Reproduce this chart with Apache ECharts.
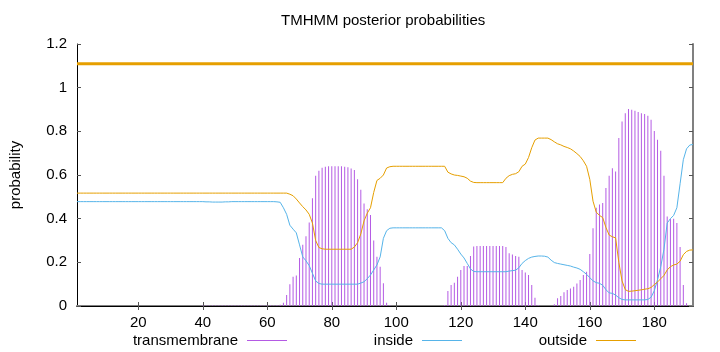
<!DOCTYPE html>
<html><head><meta charset="utf-8">
<script src="https://cdn.jsdelivr.net/npm/echarts@6/dist/echarts.min.js"></script>
<style>html,body{margin:0;padding:0;background:#fff}#c{width:720px;height:352px}</style>
</head><body><div id="c"></div>
<script>
const titleText = 'TMHMM posterior probabilities';
const xTickValues = [20, 40, 60, 80, 100, 120, 140, 160, 180];
const seqLength = 192;

const transmembrane = [
0,0,0,0,0,0,0,0,0,0,
0,0,0,0,0,0,0,0,0,0,
0,0,0,0,0,0,0,0,0,0,
0,0,0,0,0,0,0,0,0,0.002,
0.002,0.002,0.002,0.002,0.002,0.002,0.002,0.002,0.002,0.002,
0.002,0.002,0.002,0.002,0.002,0.002,0.002,0.002,0.002,0.002,
0.002,0.002,0.004,0.006,0.015,0.05,0.1,0.134,0.14,0.22,
0.28,0.32,0.382,0.494,0.596,0.62,0.633,0.638,0.64,0.64,
0.64,0.64,0.64,0.638,0.636,0.63,0.623,0.58,0.532,0.47,
0.443,0.417,0.3,0.226,0.18,0.104,0.015,0.003,0,0,
0,0,0,0,0,0,0,0,0,0,
0,0,0,0,0.005,0.069,0.096,0.107,0.134,0.165,
0.183,0.183,0.229,0.272,0.275,0.275,0.275,0.275,0.275,0.275,
0.275,0.275,0.275,0.27,0.242,0.236,0.229,0.226,0.165,0.154,
0.142,0.096,0.038,0.004,0,0,0,0,0.008,0.035,
0.046,0.063,0.073,0.08,0.088,0.103,0.119,0.142,0.157,0.238,
0.356,0.45,0.465,0.472,0.54,0.596,0.631,0.616,0.769,0.845,
0.883,0.902,0.899,0.894,0.888,0.883,0.879,0.871,0.853,0.802,
0.761,0.711,0.596,0.41,0.4,0.4,0.38,0.27,0.096,0.013,
0,0
];

const inside = [
0.478,0.478,0.478,0.478,0.478,0.478,0.478,0.478,0.478,0.478,
0.478,0.478,0.478,0.478,0.478,0.478,0.478,0.478,0.478,0.478,
0.478,0.478,0.478,0.478,0.478,0.478,0.478,0.478,0.478,0.478,
0.478,0.478,0.478,0.478,0.478,0.478,0.478,0.478,0.478,0.478,
0.477,0.477,0.476,0.476,0.476,0.476,0.477,0.477,0.478,0.478,
0.478,0.478,0.478,0.478,0.478,0.478,0.478,0.478,0.478,0.478,
0.478,0.478,0.477,0.475,0.45,0.42,0.37,0.352,0.335,0.28,
0.225,0.207,0.185,0.15,0.115,0.103,0.1,0.1,0.1,0.1,
0.1,0.1,0.1,0.1,0.1,0.1,0.1,0.1,0.105,0.111,
0.125,0.142,0.165,0.188,0.225,0.31,0.345,0.356,0.358,0.358,
0.358,0.358,0.358,0.358,0.358,0.358,0.358,0.358,0.358,0.358,
0.358,0.358,0.358,0.358,0.345,0.31,0.29,0.28,0.26,0.238,
0.22,0.195,0.17,0.158,0.157,0.157,0.157,0.157,0.157,0.157,
0.157,0.157,0.157,0.157,0.16,0.162,0.164,0.175,0.195,0.208,
0.218,0.224,0.227,0.229,0.229,0.228,0.224,0.21,0.199,0.195,
0.192,0.189,0.186,0.183,0.178,0.174,0.168,0.157,0.145,0.13,
0.115,0.107,0.104,0.095,0.075,0.06,0.058,0.05,0.038,0.03,
0.028,0.028,0.028,0.028,0.028,0.028,0.028,0.03,0.04,0.07,
0.12,0.18,0.26,0.38,0.4,0.415,0.45,0.56,0.67,0.72,
0.737,0.74
];

const outside = [
0.517,0.517,0.517,0.517,0.517,0.517,0.517,0.517,0.517,0.517,
0.517,0.517,0.517,0.517,0.517,0.517,0.517,0.517,0.517,0.517,
0.517,0.517,0.517,0.517,0.517,0.517,0.517,0.517,0.517,0.517,
0.517,0.517,0.517,0.517,0.517,0.517,0.517,0.517,0.517,0.517,
0.517,0.517,0.517,0.517,0.517,0.517,0.517,0.517,0.517,0.517,
0.517,0.517,0.517,0.517,0.517,0.517,0.517,0.517,0.517,0.517,
0.517,0.517,0.517,0.517,0.517,0.517,0.512,0.505,0.49,0.472,
0.455,0.44,0.42,0.38,0.3,0.268,0.262,0.26,0.26,0.26,
0.26,0.26,0.26,0.26,0.26,0.26,0.27,0.29,0.33,0.39,
0.425,0.45,0.52,0.575,0.585,0.6,0.632,0.638,0.64,0.64,
0.64,0.64,0.64,0.64,0.64,0.64,0.64,0.64,0.64,0.64,
0.64,0.64,0.64,0.64,0.64,0.613,0.605,0.6,0.598,0.595,
0.592,0.585,0.572,0.566,0.565,0.565,0.565,0.565,0.565,0.565,
0.565,0.565,0.565,0.585,0.597,0.603,0.606,0.615,0.64,0.65,
0.68,0.725,0.76,0.769,0.769,0.769,0.769,0.762,0.752,0.743,
0.738,0.731,0.726,0.72,0.71,0.698,0.685,0.665,0.64,0.58,
0.48,0.43,0.415,0.405,0.36,0.325,0.317,0.312,0.2,0.115,
0.075,0.067,0.068,0.07,0.072,0.074,0.077,0.079,0.085,0.098,
0.11,0.125,0.14,0.165,0.18,0.188,0.192,0.205,0.235,0.25,
0.256,0.257
];

// predicted topology line (whole sequence outside)
const topologyX = [1, 192];
const topologyY = [1.11, 1.11];

const FONT = 'Liberation Sans';
const FS = 15;
const pairs = arr => arr.map((v, i) => [i + 1, v]);

const chart = echarts.init(document.getElementById('c'), null, {renderer: 'canvas'});
const legendBase = {
  top: 333, padding: 0, align: 'right', icon: 'rect', itemWidth: 40, itemHeight: 1,
  selectedMode: false,
  textStyle: {fontFamily: FONT, fontSize: FS, color: '#000', padding: [0, 4, 0, 0]}
};
chart.setOption({
  animation: false,
  backgroundColor: '#fff',
  title: {
    text: titleText, left: 281, top: 13, padding: 0,
    textStyle: {fontFamily: FONT, fontSize: FS, fontWeight: 'normal', color: '#000'}
  },
  legend: [
    Object.assign({}, legendBase, {data: ['transmembrane'], right: 433}),
    Object.assign({}, legendBase, {data: ['inside'], right: 258}),
    Object.assign({}, legendBase, {data: ['outside'], right: 84})
  ],
  grid: {left: 73, right: 27, top: 44, bottom: 46},
  xAxis: [{
    type: 'value', min: 1, max: seqLength, position: 'bottom',
    axisLine: {show: true, lineStyle: {color: '#808080', width: 2}},
    axisTick: {show: true, inside: true, length: 4, customValues: xTickValues, lineStyle: {color: '#555'}},
    axisLabel: {show: true, customValues: xTickValues, margin: 9, fontFamily: FONT, fontSize: FS, color: '#000'},
    splitLine: {show: false}
  }, {
    type: 'value', min: 1, max: seqLength, position: 'top',
    axisLine: {show: true, lineStyle: {color: '#000', width: 1}},
    axisTick: {show: true, inside: true, length: 4, customValues: xTickValues, lineStyle: {color: '#555'}},
    axisLabel: {show: false},
    splitLine: {show: false}
  }],
  yAxis: [{
    type: 'value', min: 0, max: 1.2, interval: 0.2, position: 'left',
    name: 'probability', nameLocation: 'middle', nameGap: 54, nameRotate: 90,
    nameTextStyle: {fontFamily: FONT, fontSize: FS, color: '#000'},
    axisLine: {show: true, lineStyle: {color: '#000', width: 1}},
    axisTick: {show: true, inside: true, length: 4, lineStyle: {color: '#555'}},
    axisLabel: {margin: 10, fontFamily: FONT, fontSize: FS, color: '#000',
      formatter: v => String(Math.round(v * 10) / 10)},
    splitLine: {show: false}
  }, {
    type: 'value', min: 0, max: 1.2, interval: 0.2, position: 'right',
    axisLine: {show: true, lineStyle: {color: '#808080', width: 2}},
    axisTick: {show: true, inside: true, length: 4, lineStyle: {color: '#555'}},
    axisLabel: {show: false},
    splitLine: {show: false}
  }],
  series: [{
    name: 'transmembrane', type: 'bar', barWidth: 1, data: pairs(transmembrane),
    itemStyle: {color: '#b45ae4'}, z: 2
  }, {
    name: 'inside', type: 'line', data: pairs(inside), showSymbol: false, color: '#56B4E9',
    lineStyle: {width: 1, color: '#56B4E9'}, z: 3
  }, {
    name: 'outside', type: 'line', data: pairs(outside), showSymbol: false, color: '#E69F00',
    lineStyle: {width: 1, color: '#E69F00'}, z: 4
  }, {
    name: 'topology', type: 'line', data: topologyX.map((x, i) => [x, topologyY[i]]), showSymbol: false,
    color: '#E69F00', lineStyle: {width: 3, color: '#E69F00'}, z: 4
  }]
});
</script></body></html>
